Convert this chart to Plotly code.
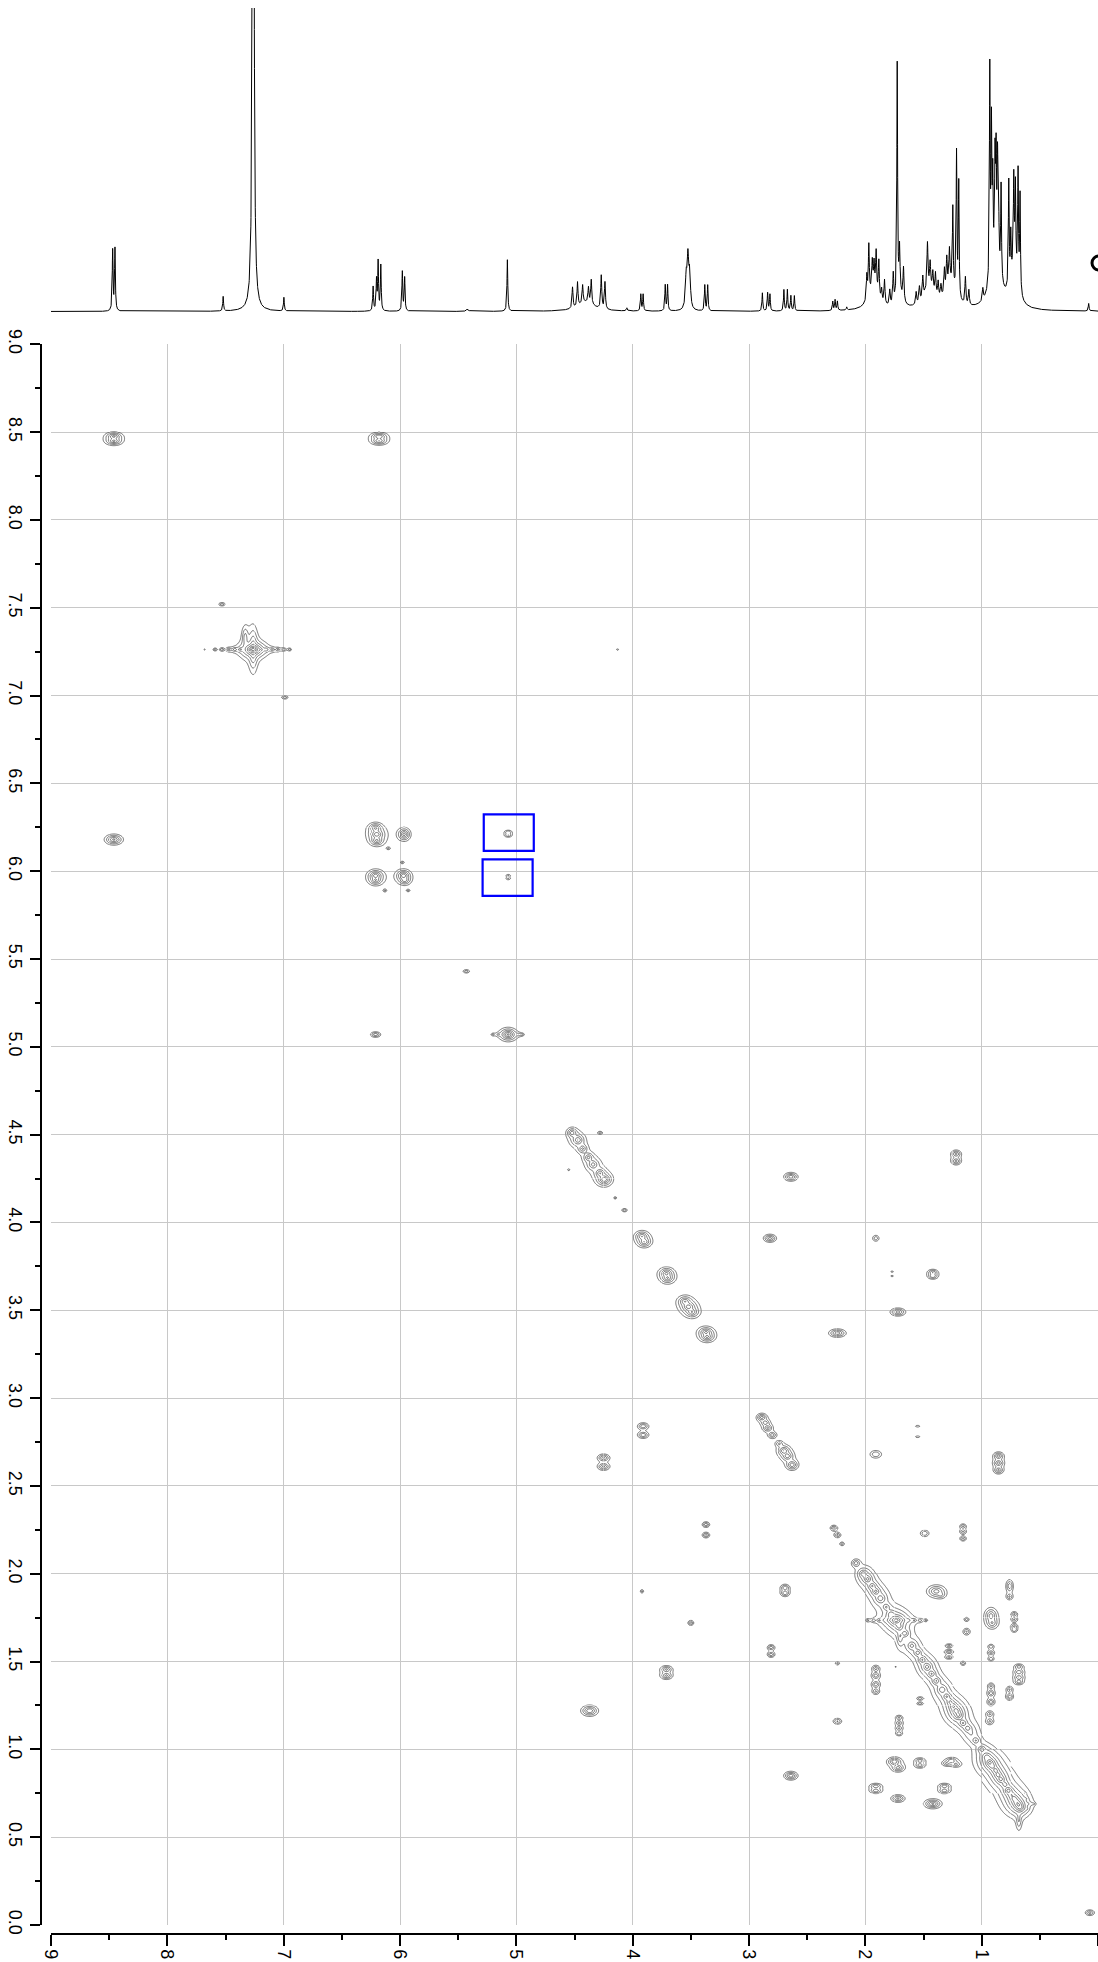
import numpy as np
import plotly.graph_objects as go

FIG_W, FIG_H = 1098, 1962

# ---------------- 1D proton projection (ppm, height, half-width) ----------------
H1_AROMATIC = [
    (8.470, 0.200, 0.004), (8.450, 0.205, 0.004), (7.520, 0.048, 0.004),
    (7.262, 4.000, 0.0055), (6.998, 0.045, 0.004),
    (6.231, 0.080, 0.004), (6.202, 0.100, 0.004), (6.188, 0.160, 0.004), (6.165, 0.150, 0.004),
    (5.980, 0.130, 0.004), (5.960, 0.110, 0.004), (5.420, 0.008, 0.010), (5.077, 0.170, 0.004),
]
H1_MID = [
    (4.517, 0.070, 0.005), (4.474, 0.080, 0.005), (4.430, 0.060, 0.005), (4.380, 0.050, 0.005),
    (4.356, 0.080, 0.005), (4.270, 0.110, 0.005), (4.238, 0.090, 0.005), (4.400, 0.030, 0.080),
    (4.050, 0.010, 0.005), (3.930, 0.055, 0.004), (3.910, 0.055, 0.004),
    (3.720, 0.085, 0.004), (3.700, 0.085, 0.004),
    (3.540, 0.100, 0.008), (3.525, 0.160, 0.008), (3.510, 0.110, 0.008),
    (3.380, 0.085, 0.004), (3.355, 0.085, 0.004),
    (2.885, 0.060, 0.004), (2.840, 0.060, 0.004), (2.820, 0.055, 0.004),
    (2.700, 0.070, 0.004), (2.670, 0.070, 0.004), (2.640, 0.050, 0.004), (2.610, 0.050, 0.004),
    (2.280, 0.030, 0.004), (2.260, 0.035, 0.004), (2.240, 0.030, 0.004), (2.160, 0.010, 0.004),
]
H1_ALIPHATIC = [
    (1.987, 0.080, 0.005), (1.970, 0.170, 0.005), (1.940, 0.090, 0.005), (1.925, 0.080, 0.005),
    (1.907, 0.130, 0.005), (1.884, 0.120, 0.005), (1.860, 0.040, 0.005), (1.835, 0.080, 0.005),
    (1.790, 0.050, 0.005), (1.760, 0.100, 0.005), (1.726, 0.780, 0.004), (1.706, 0.150, 0.005),
    (1.672, 0.110, 0.005), (1.563, 0.040, 0.005), (1.535, 0.050, 0.005), (1.506, 0.070, 0.005),
    (1.466, 0.150, 0.005), (1.443, 0.080, 0.005), (1.420, 0.060, 0.005), (1.397, 0.070, 0.005),
    (1.374, 0.050, 0.005), (1.350, 0.040, 0.005), (1.320, 0.080, 0.005), (1.300, 0.100, 0.005),
    (1.277, 0.110, 0.005), (1.248, 0.260, 0.004), (1.216, 0.470, 0.004), (1.197, 0.380, 0.004),
    (1.140, 0.090, 0.005), (1.110, 0.050, 0.005), (0.990, 0.040, 0.005),
    (0.930, 0.700, 0.004), (0.916, 0.470, 0.004), (0.905, 0.280, 0.004), (0.885, 0.320, 0.004),
    (0.876, 0.320, 0.004), (0.864, 0.300, 0.004), (0.856, 0.280, 0.004), (0.833, 0.310, 0.004),
    (0.767, 0.350, 0.004), (0.750, 0.150, 0.004), (0.724, 0.290, 0.004), (0.710, 0.270, 0.004),
    (0.687, 0.370, 0.004), (0.670, 0.320, 0.004), (0.080, 0.025, 0.004),
]
H1_BROAD = [
    (1.930, 0.070, 0.050), (1.450, 0.070, 0.060), (1.270, 0.080, 0.050),
    (0.880, 0.150, 0.050), (0.720, 0.130, 0.035), (1.700, 0.040, 0.030),
]

# ---------------- 2D COSY peaks (F2 ppm, F1 ppm, amplitude, width F2, width F1) ----------------
PK_OLEFINIC = [
    (8.460, 8.475, 0.30, 0.024, 0.008), (8.460, 8.450, 0.30, 0.024, 0.008),
    (6.180, 8.475, 0.25, 0.026, 0.008), (6.180, 8.450, 0.25, 0.026, 0.008),
    (8.460, 6.180, 0.30, 0.026, 0.010),
    (7.530, 7.520, 0.05, 0.020, 0.007), (6.990, 6.990, 0.05, 0.020, 0.007),
    (6.210, 6.245, 0.30, 0.021, 0.010), (6.200, 6.210, 0.45, 0.021, 0.010),
    (6.200, 6.175, 0.30, 0.021, 0.010), (5.965, 6.210, 0.35, 0.018, 0.012),
    (6.210, 5.975, 0.40, 0.021, 0.010), (6.210, 5.950, 0.25, 0.021, 0.010),
    (5.970, 5.975, 0.45, 0.019, 0.010), (5.960, 5.950, 0.20, 0.019, 0.010),
    (5.980, 6.050, 0.04, 0.012, 0.005), (6.130, 5.890, 0.04, 0.012, 0.006),
    (5.930, 5.890, 0.04, 0.012, 0.005), (6.100, 6.130, 0.04, 0.012, 0.005),
    (5.070, 6.222, 0.06, 0.020, 0.007), (5.070, 6.205, 0.06, 0.020, 0.007),
    (5.070, 5.975, 0.035, 0.016, 0.006), (5.070, 5.958, 0.035, 0.016, 0.006),
    (5.430, 5.430, 0.05, 0.020, 0.007), (6.210, 5.070, 0.10, 0.022, 0.008),
    (5.070, 5.070, 0.60, 0.021, 0.010),
    (5.200, 5.070, 0.04, 0.012, 0.005), (5.150, 5.070, 0.05, 0.012, 0.005),
    (4.980, 5.070, 0.05, 0.012, 0.005), (4.950, 5.070, 0.04, 0.012, 0.005),
]
PK_SOLVENT = [
    (7.262, 7.262, 3.00, 0.018, 0.008), (7.262, 7.262, 0.20, 0.016, 0.050),
    (7.330, 7.330, 0.08, 0.016, 0.035), (7.680, 7.262, 0.03, 0.006, 0.004),
    (7.590, 7.262, 0.05, 0.012, 0.006), (7.530, 7.262, 0.07, 0.012, 0.006),
    (7.470, 7.262, 0.08, 0.012, 0.006), (7.420, 7.262, 0.10, 0.012, 0.006),
    (7.370, 7.262, 0.12, 0.012, 0.006), (7.200, 7.262, 0.12, 0.012, 0.006),
    (7.150, 7.262, 0.10, 0.012, 0.006), (7.100, 7.262, 0.08, 0.012, 0.006),
    (7.050, 7.262, 0.07, 0.012, 0.006), (7.000, 7.262, 0.06, 0.012, 0.006),
    (6.950, 7.262, 0.05, 0.012, 0.006), (4.130, 7.262, 0.03, 0.010, 0.004),
]
PK_MIDFIELD = [
    (4.520, 4.510, 0.20, 0.018, 0.011), (4.470, 4.470, 0.22, 0.018, 0.011),
    (4.430, 4.420, 0.14, 0.018, 0.011), (4.380, 4.370, 0.16, 0.018, 0.011),
    (4.340, 4.330, 0.14, 0.018, 0.011), (4.280, 4.280, 0.25, 0.018, 0.011),
    (4.245, 4.245, 0.50, 0.020, 0.011),
    (4.480, 4.470, 0.04, 0.040, 0.025), (4.340, 4.330, 0.04, 0.040, 0.025),
    (4.280, 4.510, 0.05, 0.015, 0.006),
    (4.550, 4.300, 0.03, 0.010, 0.005), (4.150, 4.140, 0.04, 0.010, 0.005),
    (4.070, 4.070, 0.06, 0.015, 0.006),
    (2.640, 4.260, 0.22, 0.022, 0.009),
    (1.220, 4.390, 0.16, 0.018, 0.009), (1.220, 4.350, 0.16, 0.018, 0.009),
    (3.920, 3.920, 0.25, 0.022, 0.011), (3.900, 3.890, 0.25, 0.022, 0.011),
    (2.820, 3.910, 0.18, 0.022, 0.009), (1.910, 3.910, 0.05, 0.020, 0.012),
    (3.710, 3.710, 0.30, 0.022, 0.011), (3.700, 3.685, 0.25, 0.022, 0.011),
    (1.420, 3.715, 0.12, 0.020, 0.008), (1.420, 3.695, 0.12, 0.020, 0.008),
    (1.770, 3.720, 0.03, 0.012, 0.004), (1.770, 3.695, 0.03, 0.012, 0.004),
    (3.550, 3.550, 0.25, 0.022, 0.011), (3.520, 3.520, 0.40, 0.022, 0.011),
    (3.490, 3.490, 0.25, 0.022, 0.011),
    (1.720, 3.490, 0.18, 0.026, 0.009),
    (3.370, 3.375, 0.30, 0.022, 0.010), (3.360, 3.350, 0.30, 0.022, 0.010),
    (2.240, 3.370, 0.20, 0.028, 0.009),
    (2.890, 2.890, 0.18, 0.018, 0.009), (2.860, 2.860, 0.10, 0.018, 0.009),
    (2.840, 2.830, 0.15, 0.018, 0.009), (2.800, 2.790, 0.10, 0.018, 0.009),
    (2.740, 2.740, 0.07, 0.018, 0.009), (2.700, 2.700, 0.25, 0.020, 0.011),
    (2.670, 2.670, 0.20, 0.020, 0.011), (2.630, 2.620, 0.22, 0.020, 0.011),
    (3.910, 2.840, 0.12, 0.022, 0.009), (3.910, 2.790, 0.12, 0.022, 0.009),
    (4.250, 2.660, 0.15, 0.022, 0.009), (4.250, 2.610, 0.15, 0.022, 0.009),
    (1.910, 2.680, 0.06, 0.032, 0.014),
    (1.550, 2.840, 0.03, 0.020, 0.005), (1.550, 2.780, 0.03, 0.020, 0.005),
    (0.855, 2.670, 0.18, 0.018, 0.009), (0.855, 2.630, 0.18, 0.018, 0.009),
    (0.855, 2.590, 0.15, 0.018, 0.009),
    (3.370, 2.280, 0.10, 0.016, 0.008), (3.370, 2.220, 0.10, 0.016, 0.008),
    (2.270, 2.260, 0.10, 0.016, 0.008), (2.240, 2.220, 0.08, 0.016, 0.008),
    (2.200, 2.170, 0.05, 0.014, 0.007),
    (1.490, 2.230, 0.06, 0.024, 0.012),
    (1.160, 2.270, 0.07, 0.016, 0.008), (1.160, 2.240, 0.07, 0.016, 0.008),
    (1.160, 2.200, 0.07, 0.016, 0.008),
]
PK_DIAG_ALIPH = [
    (2.080, 2.060, 0.10, 0.018, 0.011), (2.020, 2.000, 0.18, 0.018, 0.011),
    (1.980, 1.970, 0.30, 0.018, 0.011), (1.940, 1.930, 0.25, 0.018, 0.011),
    (1.910, 1.900, 0.30, 0.018, 0.011), (1.870, 1.860, 0.18, 0.018, 0.011),
    (1.820, 1.810, 0.12, 0.018, 0.011), (1.780, 1.770, 0.18, 0.018, 0.011),
    (1.735, 1.735, 1.50, 0.022, 0.010), (1.710, 1.700, 0.30, 0.018, 0.011),
    (1.700, 1.640, 0.10, 0.015, 0.028), (1.660, 1.660, 0.18, 0.018, 0.011),
    (1.600, 1.590, 0.12, 0.018, 0.011), (1.550, 1.550, 0.18, 0.018, 0.011),
    (1.510, 1.510, 0.25, 0.018, 0.011), (1.470, 1.470, 0.30, 0.018, 0.011),
    (1.430, 1.430, 0.25, 0.018, 0.011), (1.390, 1.390, 0.25, 0.018, 0.011),
    (1.340, 1.340, 0.18, 0.018, 0.011), (1.300, 1.300, 0.25, 0.018, 0.011),
    (1.270, 1.270, 0.25, 0.018, 0.011), (1.245, 1.245, 0.50, 0.018, 0.011),
    (1.220, 1.220, 0.70, 0.018, 0.011), (1.200, 1.195, 0.60, 0.018, 0.011),
    (1.160, 1.150, 0.25, 0.018, 0.011), (1.120, 1.120, 0.18, 0.018, 0.011),
    (1.050, 1.050, 0.12, 0.018, 0.011), (1.000, 1.000, 0.18, 0.018, 0.011),
    (0.955, 0.955, 0.35, 0.018, 0.011), (0.930, 0.925, 1.20, 0.018, 0.011),
    (0.910, 0.905, 0.70, 0.018, 0.011), (0.880, 0.880, 0.60, 0.018, 0.011),
    (0.860, 0.855, 0.60, 0.018, 0.011), (0.835, 0.830, 0.60, 0.018, 0.011),
    (0.800, 0.800, 0.30, 0.018, 0.011), (0.770, 0.765, 0.70, 0.018, 0.011),
    (0.745, 0.740, 0.35, 0.018, 0.011), (0.720, 0.720, 0.60, 0.018, 0.011),
    (0.700, 0.700, 0.60, 0.018, 0.011), (0.685, 0.685, 0.90, 0.018, 0.011),
    (0.670, 0.670, 0.60, 0.018, 0.011), (0.680, 0.600, 0.06, 0.014, 0.035),
    # broad envelope along the aliphatic diagonal
    (2.000, 1.990, 0.05, 0.040, 0.030), (1.870, 1.860, 0.05, 0.040, 0.030),
    (1.740, 1.730, 0.07, 0.040, 0.035), (1.600, 1.590, 0.05, 0.040, 0.030),
    (1.470, 1.470, 0.06, 0.040, 0.030), (1.340, 1.340, 0.06, 0.040, 0.030),
    (1.220, 1.210, 0.07, 0.040, 0.030), (1.090, 1.090, 0.05, 0.040, 0.030),
    (0.960, 0.955, 0.07, 0.040, 0.030), (0.840, 0.835, 0.07, 0.040, 0.030),
    (0.720, 0.715, 0.07, 0.040, 0.030),
    # t1 streaks
    (1.980, 1.735, 0.04, 0.012, 0.006), (1.930, 1.735, 0.05, 0.012, 0.006),
    (1.880, 1.735, 0.06, 0.012, 0.006), (1.830, 1.735, 0.07, 0.012, 0.006),
    (1.790, 1.735, 0.08, 0.012, 0.006), (1.680, 1.735, 0.08, 0.012, 0.006),
    (1.630, 1.735, 0.07, 0.012, 0.006), (1.580, 1.735, 0.06, 0.012, 0.006),
    (1.530, 1.735, 0.05, 0.012, 0.006), (1.480, 1.735, 0.04, 0.012, 0.006),
    (0.600, 0.690, 0.04, 0.008, 0.004), (0.570, 0.690, 0.04, 0.008, 0.004),
    (0.550, 0.690, 0.03, 0.008, 0.004), (0.620, 0.720, 0.03, 0.008, 0.004),
    (0.630, 0.750, 0.03, 0.008, 0.004), (0.610, 0.660, 0.03, 0.008, 0.004),
]
PK_CROSS_ALIPH = [
    (1.390, 1.900, 0.18, 0.032, 0.014), (1.350, 1.880, 0.06, 0.020, 0.010),
    (0.760, 1.930, 0.10, 0.016, 0.018), (0.760, 1.870, 0.07, 0.016, 0.010),
    (1.130, 1.740, 0.05, 0.015, 0.008), (1.130, 1.670, 0.07, 0.018, 0.011),
    (0.920, 1.760, 0.18, 0.022, 0.018), (0.910, 1.720, 0.12, 0.022, 0.014),
    (0.720, 1.770, 0.07, 0.016, 0.008), (0.720, 1.740, 0.07, 0.016, 0.008),
    (0.720, 1.700, 0.07, 0.016, 0.008), (0.720, 1.680, 0.06, 0.016, 0.008),
    (1.280, 1.590, 0.07, 0.018, 0.006), (1.280, 1.555, 0.10, 0.018, 0.006),
    (1.280, 1.525, 0.07, 0.018, 0.006), (1.160, 1.490, 0.05, 0.015, 0.008),
    (0.920, 1.585, 0.06, 0.016, 0.008), (0.920, 1.550, 0.08, 0.016, 0.008),
    (0.920, 1.515, 0.06, 0.016, 0.008),
    (0.680, 1.470, 0.10, 0.020, 0.008), (0.680, 1.440, 0.12, 0.020, 0.008),
    (0.680, 1.410, 0.12, 0.020, 0.008), (0.680, 1.385, 0.10, 0.020, 0.008),
    (0.760, 1.340, 0.07, 0.016, 0.010), (0.760, 1.300, 0.10, 0.016, 0.010),
    (0.920, 1.360, 0.07, 0.016, 0.010), (0.920, 1.320, 0.10, 0.016, 0.010),
    (0.920, 1.270, 0.10, 0.016, 0.010),
    (1.910, 1.460, 0.08, 0.018, 0.010), (1.910, 1.420, 0.10, 0.018, 0.010),
    (1.910, 1.370, 0.10, 0.018, 0.010), (1.910, 1.330, 0.07, 0.018, 0.010),
    (2.240, 1.490, 0.04, 0.015, 0.008), (1.740, 1.470, 0.02, 0.010, 0.004),
    (1.530, 1.290, 0.05, 0.018, 0.006), (1.530, 1.260, 0.05, 0.018, 0.006),
    (1.710, 1.180, 0.07, 0.018, 0.008), (1.710, 1.150, 0.08, 0.018, 0.008),
    (1.710, 1.120, 0.07, 0.018, 0.008), (1.710, 1.090, 0.06, 0.018, 0.008),
    (2.240, 1.160, 0.07, 0.022, 0.010),
    (0.930, 1.200, 0.07, 0.018, 0.010), (0.930, 1.160, 0.07, 0.018, 0.010),
    (1.750, 0.930, 0.25, 0.022, 0.009), (1.720, 0.895, 0.18, 0.022, 0.009),
    (1.530, 0.935, 0.10, 0.022, 0.008), (1.530, 0.910, 0.10, 0.022, 0.008),
    (1.260, 0.935, 0.12, 0.022, 0.008), (1.300, 0.920, 0.07, 0.022, 0.008),
    (1.220, 0.915, 0.07, 0.022, 0.008),
    (1.910, 0.790, 0.10, 0.026, 0.008), (1.910, 0.765, 0.10, 0.026, 0.008),
    (1.720, 0.720, 0.15, 0.025, 0.009),
    (1.320, 0.790, 0.10, 0.025, 0.008), (1.320, 0.765, 0.10, 0.025, 0.008),
    (1.420, 0.690, 0.30, 0.025, 0.009),
    (2.640, 0.850, 0.22, 0.022, 0.009),
    (3.500, 1.720, 0.08, 0.014, 0.008), (3.920, 1.900, 0.04, 0.012, 0.008),
    (2.690, 1.920, 0.12, 0.018, 0.009), (2.690, 1.890, 0.12, 0.018, 0.009),
    (2.810, 1.580, 0.10, 0.016, 0.008), (2.810, 1.540, 0.10, 0.016, 0.008),
    (3.710, 1.455, 0.15, 0.022, 0.009), (3.710, 1.420, 0.15, 0.022, 0.009),
    (4.370, 1.220, 0.25, 0.026, 0.011),
    (0.070, 0.070, 0.08, 0.022, 0.009),
]

# highlighted regions (F2 from, F2 to, F1 from, F1 to)
HIGHLIGHT_BOXES = [(5.28, 4.85, 6.116, 6.323), (5.29, 4.86, 5.860, 6.067)]

# ---------------- geometry (pixels) ----------------
PLOT_LEFT, PLOT_RIGHT = 51, 1098
PLOT_TOP, PLOT_BOTTOM = 344.3, 1925
YAXIS_LINE_X = 41
XAXIS_LINE_Y = 1934
SPEC_TOP, SPEC_BASE = 8, 313


def py(px):
    return (FIG_H - px) / FIG_H


x_domain = [PLOT_LEFT / FIG_W, PLOT_RIGHT / FIG_W]
y_domain = [py(PLOT_BOTTOM), py(PLOT_TOP)]

fig = go.Figure()

# ---------------- 1D trace ----------------
ppm = np.arange(0.0, 9.0001, 0.001)
spec = np.zeros_like(ppm)
for pos, hgt, hw in H1_AROMATIC + H1_MID + H1_ALIPHATIC + H1_BROAD:
    spec += hgt * hw ** 2 / (hw ** 2 + (ppm - pos) ** 2)
fig.add_trace(go.Scatter(
    x=np.round(ppm, 3), y=np.round(spec, 4), xaxis="x2", yaxis="y2",
    mode="lines", line=dict(color="black", width=1), hoverinfo="skip", showlegend=False,
))

# ---------------- 2D contour tiles ----------------
# each peak: amp / (1 + r^2)^1.5, r = distance normalised by (width * LB)
peaks = np.array(PK_OLEFINIC + PK_SOLVENT + PK_MIDFIELD + PK_DIAG_ALIPH + PK_CROSS_ALIPH)
LB = 1.3
LEVEL0 = 0.016
LEVEL_FACTOR = 2.0
TILE = 0.25
DX, DY = 0.007, 0.0045
REACH = 7.5
floor = np.log10(LEVEL0) - 0.6
gray = "#3c3c3c"

n_tiles = int(round(9 / TILE))
for i in range(n_tiles):
    for j in range(n_tiles):
        x0, x1 = i * TILE, (i + 1) * TILE
        y0, y1 = j * TILE, (j + 1) * TILE
        m = ((peaks[:, 0] + REACH * peaks[:, 3] > x0) & (peaks[:, 0] - REACH * peaks[:, 3] < x1) &
             (peaks[:, 1] + REACH * peaks[:, 4] > y0) & (peaks[:, 1] - REACH * peaks[:, 4] < y1))
        if not m.any():
            continue
        xs = np.linspace(x0, x1, int(round(TILE / DX)) + 1)
        ys = np.linspace(y0, y1, int(round(TILE / DY)) + 1)
        X, Y = np.meshgrid(xs, ys)
        Z = np.zeros_like(X)
        for f2, f1, amp, wx, wy in peaks[m]:
            r2 = ((X - f2) / (wx * LB)) ** 2 + ((Y - f1) / (wy * LB)) ** 2
            Z += amp / (1.0 + r2) ** 1.5
        if Z.max() < LEVEL0:
            continue
        L = np.maximum(np.log10(np.maximum(Z, 1e-12)), floor)
        fig.add_trace(go.Contour(
            x=np.round(xs, 4), y=np.round(ys, 4), z=np.round(L, 3),
            contours=dict(coloring="lines", start=np.log10(LEVEL0),
                          end=np.log10(40), size=np.log10(LEVEL_FACTOR)),
            colorscale=[[0, gray], [1, gray]], showscale=False,
            line=dict(width=0.7, smoothing=1), hoverinfo="skip", showlegend=False,
        ))

# ---------------- layout ----------------
tick_font = dict(family="Liberation Sans, Arial, sans-serif", size=18, color="black")
grid_color = "#c8c8c8"

fig.update_layout(
    width=FIG_W, height=FIG_H, margin=dict(l=0, r=0, t=0, b=0, autoexpand=False),
    paper_bgcolor="white", plot_bgcolor="white", showlegend=False,
    xaxis=dict(
        domain=x_domain, range=[9, 0], anchor="free", position=py(XAXIS_LINE_Y),
        side="bottom", showline=True, linecolor="black", linewidth=1.5, automargin=False,
        ticks="outside", ticklen=11, tickwidth=1.5, tickcolor="black",
        tick0=0, dtick=1, tickangle=90, tickfont=tick_font,
        showgrid=True, gridcolor=grid_color, gridwidth=1.3, zeroline=False,
        minor=dict(ticks="outside", ticklen=5, tickwidth=1.5, tickcolor="black",
                   dtick=0.5, showgrid=False),
    ),
    yaxis=dict(
        domain=y_domain, range=[0, 9], anchor="free", position=YAXIS_LINE_X / FIG_W,
        side="left", showline=True, linecolor="black", linewidth=1.5, automargin=False,
        ticks="outside", ticklen=10, tickwidth=1.5, tickcolor="black",
        tick0=0, dtick=0.5, tickformat=".1f", tickangle=90, tickfont=tick_font,
        showgrid=True, gridcolor=grid_color, gridwidth=1.3, zeroline=False,
        minor=dict(ticks="outside", ticklen=5, tickwidth=1.5, tickcolor="black",
                   dtick=0.25, showgrid=False),
    ),
    xaxis2=dict(domain=x_domain, range=[9, 0], anchor="y2", visible=False, automargin=False),
    yaxis2=dict(domain=[py(SPEC_BASE), py(SPEC_TOP)], range=[-0.005, 1.0],
                anchor="x2", visible=False, automargin=False),
)

for f2a, f2b, f1a, f1b in HIGHLIGHT_BOXES:
    fig.add_shape(type="rect", xref="x", yref="y", x0=f2a, x1=f2b, y0=f1a, y1=f1b,
                  line=dict(color="#0000ff", width=2.2), fillcolor="rgba(0,0,0,0)")

# partial ring marker at the right edge of the projection
fig.add_shape(type="circle", xref="paper", yref="paper",
              x0=1092 / FIG_W, x1=1106 / FIG_W, y0=py(270), y1=py(256),
              line=dict(color="black", width=3))

fig.write_html("out.html")
